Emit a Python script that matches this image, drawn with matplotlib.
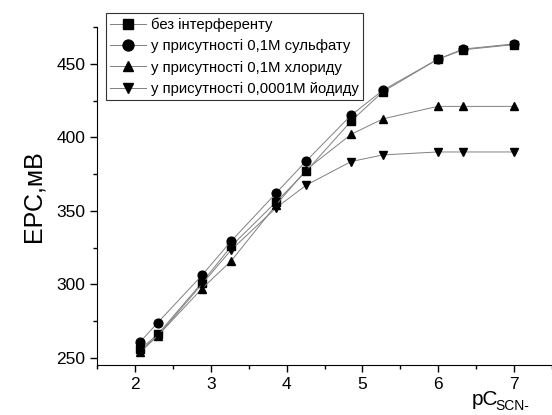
import matplotlib
matplotlib.use('Agg')
import matplotlib.pyplot as plt
from matplotlib.ticker import MultipleLocator

plt.rcParams['font.family'] = ['Liberation Sans', 'DejaVu Sans']

pC = [2.07, 2.3, 2.88, 3.27, 3.86, 4.26, 4.85, 5.27, 5.99, 6.33, 7.0]
no_interf = [256, 266, 301, 326, 356, 377, 411, 431, 453, 459.5, 463]
sulfate = [261, 274, 306, 329.5, 362, 384, 415, 432, 453, 460, 463.5]
chloride = [254, 265, 297, 316, 354, 378, 402, 412.5, 421, 421, 421]
iodide = [255, 265, 300, 323.5, 352, 367.5, 383.5, 388, 390, 390, 390]

labels = ['без інтерференту',
          'у присутності 0,1М сульфату',
          'у присутності 0,1М хлориду',
          'у присутності 0,0001М йодиду']
markers = ['s', 'o', '^', 'v']

fig = plt.figure(figsize=(5.52, 4.15), dpi=100)
ax = fig.add_axes([0.176, 0.120, 0.824, 0.815])

for ys, m, lab in zip([no_interf, sulfate, chloride, iodide], markers, labels):
    ax.plot(pC, ys, color='#808080', lw=0.7, marker=m, ms=6.3,
            mfc='black', mec='black', label=lab)

ax.set_xlim(1.5, 7.5)
ax.set_ylim(245, 475)
ax.xaxis.set_major_locator(MultipleLocator(1))
ax.xaxis.set_minor_locator(MultipleLocator(0.5))
ax.yaxis.set_major_locator(MultipleLocator(50))
ax.yaxis.set_minor_locator(MultipleLocator(25))
ax.spines['top'].set_visible(False)
ax.spines['right'].set_visible(False)
ax.tick_params(which='major', direction='out', length=5, width=1, labelsize=12.5)
ax.tick_params(which='minor', direction='out', length=3, width=1)

ax.set_ylabel('ЕРС,мВ', fontsize=18, labelpad=8)
fig.text(0.855, 0.025, 'pC', fontsize=15)
fig.text(0.897, 0.012, 'SCN-', fontsize=10)

leg = ax.legend(loc='upper left', bbox_to_anchor=(0.192, 0.969),
                bbox_transform=fig.transFigure, fontsize=10.7,
                frameon=True, fancybox=False, edgecolor='black',
                handlelength=2.4, handletextpad=0.3, borderpad=0.3,
                labelspacing=0.5, borderaxespad=0, markerscale=1.25)
leg.get_frame().set_linewidth(0.8)

fig.savefig('out.png', dpi=100)
